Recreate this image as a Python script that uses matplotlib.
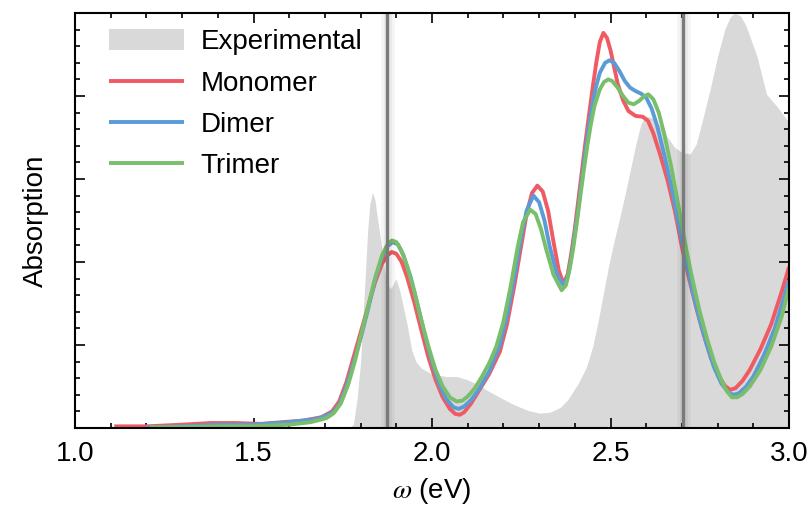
import numpy as np
import matplotlib.pyplot as plt
from matplotlib.ticker import MultipleLocator, NullFormatter

# experimental spectrum (shaded)
exp_x = [1.77, 1.78, 1.79, 1.80, 1.81, 1.82, 1.826, 1.833, 1.84, 1.848, 1.855, 1.865,
         1.875, 1.885, 1.899, 1.91, 1.92, 1.93, 1.943, 1.955, 1.97, 2.00, 2.04, 2.07,
         2.10, 2.13, 2.16, 2.19, 2.23, 2.27, 2.30, 2.33, 2.36, 2.38, 2.41, 2.433,
         2.45, 2.465, 2.48, 2.495, 2.51, 2.525, 2.54, 2.555, 2.57, 2.585, 2.598,
         2.615, 2.639, 2.66, 2.68, 2.70, 2.723, 2.74, 2.76, 2.779, 2.80, 2.82,
         2.835, 2.848, 2.865, 2.88, 2.91, 2.937, 2.965, 3.00]
exp_y = [0.0, 0.05, 0.35, 0.80, 1.60, 2.40, 2.70, 2.84, 2.75, 2.50, 2.30, 1.95,
         1.72, 1.68, 1.80, 1.65, 1.45, 1.25, 0.94, 0.80, 0.72, 0.65, 0.62, 0.62,
         0.58, 0.52, 0.44, 0.37, 0.28, 0.21, 0.18, 0.19, 0.25, 0.34, 0.54, 0.74,
         0.98, 1.28, 1.62, 1.96, 2.25, 2.52, 2.80, 3.10, 3.40, 3.66, 3.76,
         3.74, 3.64, 3.50, 3.38, 3.32, 3.30, 3.42, 3.75, 4.08, 4.48, 4.80,
         4.95, 5.00, 4.96, 4.84, 4.48, 4.02, 3.88, 3.68]

mono_x = [1.11, 1.20, 1.30, 1.38, 1.45, 1.52, 1.58, 1.64, 1.69, 1.72, 1.74, 1.76,
          1.78, 1.80, 1.82, 1.84, 1.86, 1.875, 1.887, 1.90, 1.915, 1.93, 1.95, 1.97,
          1.99, 2.01, 2.03, 2.05, 2.065, 2.078, 2.09, 2.11, 2.13, 2.16, 2.19, 2.21,
          2.23, 2.25, 2.265, 2.28, 2.295, 2.31, 2.325, 2.34, 2.355, 2.368, 2.38,
          2.39, 2.40, 2.41, 2.42, 2.43, 2.44, 2.45, 2.46, 2.47, 2.48, 2.49, 2.50,
          2.51, 2.52, 2.535, 2.55, 2.57, 2.59, 2.605, 2.62, 2.64, 2.66, 2.68, 2.70,
          2.72, 2.74, 2.76, 2.78, 2.80, 2.82, 2.835, 2.85, 2.87, 2.89, 2.92, 2.95,
          2.98, 3.00]
mono_y = [0.02, 0.02, 0.04, 0.06, 0.06, 0.05, 0.07, 0.09, 0.13, 0.20, 0.32, 0.55,
          0.85, 1.15, 1.45, 1.75, 1.98, 2.08, 2.12, 2.10, 2.00, 1.82, 1.52, 1.18,
          0.85, 0.58, 0.37, 0.23, 0.17, 0.16, 0.19, 0.30, 0.44, 0.65, 0.92, 1.25,
          1.70, 2.20, 2.58, 2.83, 2.92, 2.85, 2.62, 2.25, 1.90, 1.74, 1.85,
          2.10, 2.40, 2.75, 3.10, 3.45, 3.78, 4.10, 4.40, 4.65, 4.76, 4.70, 4.55,
          4.35, 4.15, 3.95, 3.82, 3.76, 3.75, 3.70, 3.55, 3.28, 2.98, 2.62, 2.18,
          1.80, 1.45, 1.14, 0.86, 0.65, 0.51, 0.46, 0.48, 0.57, 0.70, 0.95, 1.25,
          1.65, 1.94]

dim_x = [1.20, 1.30, 1.40, 1.50, 1.60, 1.68, 1.72, 1.74, 1.76, 1.78, 1.80, 1.82,
         1.84, 1.86, 1.875, 1.89, 1.905, 1.92, 1.94, 1.96, 1.98, 2.00, 2.02, 2.04,
         2.06, 2.075, 2.09, 2.11, 2.13, 2.16, 2.19, 2.21, 2.23, 2.25, 2.265, 2.284,
         2.30, 2.315, 2.33, 2.35, 2.368, 2.38, 2.39, 2.40, 2.41, 2.42, 2.43, 2.44,
         2.45, 2.46, 2.47, 2.485, 2.497, 2.51, 2.525, 2.54, 2.555, 2.57, 2.585,
         2.60, 2.615, 2.63, 2.65, 2.67, 2.69, 2.71, 2.73, 2.75, 2.77, 2.79, 2.81,
         2.83, 2.845, 2.86, 2.88, 2.90, 2.93, 2.96, 3.00]
dim_y = [0.01, 0.02, 0.04, 0.04, 0.07, 0.11, 0.18, 0.28, 0.50, 0.78, 1.08, 1.42,
         1.78, 2.06, 2.19, 2.24, 2.21, 2.08, 1.82, 1.48, 1.12, 0.80, 0.53, 0.35,
         0.25, 0.23, 0.26, 0.34, 0.46, 0.68, 1.00, 1.35, 1.80, 2.30, 2.62, 2.80,
         2.72, 2.50, 2.18, 1.85, 1.72, 1.82, 2.05, 2.35, 2.65, 3.00, 3.35, 3.65,
         3.92, 4.12, 4.28, 4.40, 4.43, 4.40, 4.30, 4.18, 4.10, 4.06, 4.03,
         3.98, 3.85, 3.65, 3.30, 2.92, 2.48, 2.05, 1.65, 1.30, 1.00, 0.73, 0.54,
         0.43, 0.40, 0.42, 0.50, 0.62, 0.88, 1.20, 1.78]

tri_x = [1.21, 1.30, 1.40, 1.50, 1.60, 1.66, 1.705, 1.725, 1.745, 1.765, 1.785, 1.80,
         1.82, 1.84, 1.86, 1.875, 1.888, 1.90, 1.915, 1.93, 1.95, 1.97, 1.99, 2.01,
         2.03, 2.05, 2.069, 2.085, 2.10, 2.12, 2.14, 2.16, 2.18, 2.20, 2.22, 2.24,
         2.255, 2.275, 2.29, 2.305, 2.32, 2.34, 2.363, 2.375, 2.385, 2.395, 2.405,
         2.415, 2.425, 2.435, 2.445, 2.455, 2.47, 2.482, 2.494, 2.505, 2.52, 2.535,
         2.55, 2.565, 2.58, 2.595, 2.606, 2.62, 2.635, 2.65, 2.67, 2.69, 2.71, 2.73,
         2.75, 2.77, 2.79, 2.81, 2.825, 2.84, 2.855, 2.87, 2.89, 2.92, 2.95, 2.98,
         3.00]
tri_y = [0.01, 0.01, 0.02, 0.02, 0.04, 0.07, 0.12, 0.18, 0.30, 0.52, 0.82, 1.10,
         1.45, 1.80, 2.08, 2.21, 2.26, 2.24, 2.13, 1.95, 1.65, 1.30, 0.98, 0.70,
         0.50, 0.37, 0.32, 0.33, 0.38, 0.48, 0.62, 0.78, 0.98, 1.28, 1.70, 2.18,
         2.48, 2.63, 2.58, 2.40, 2.15, 1.85, 1.66, 1.72, 1.90, 2.15, 2.45,
         2.78, 3.10, 3.40, 3.66, 3.88, 4.08, 4.17, 4.20, 4.18, 4.10, 4.00,
         3.92, 3.90, 3.94, 4.00, 4.02, 3.96, 3.80, 3.55, 3.15, 2.68, 2.20, 1.78,
         1.40, 1.08, 0.80, 0.58, 0.45, 0.37, 0.37, 0.41, 0.50, 0.70, 0.98, 1.35,
         1.70]

vlines = [1.873, 2.703]

plt.rcParams['font.family'] = ['Liberation Sans', 'DejaVu Sans']
plt.rcParams['mathtext.fontset'] = 'stix'

fig = plt.figure(figsize=(8.11, 5.11), dpi=100)
ax = fig.add_axes([0.0925, 0.1624, 0.8804, 0.8122])

ax.fill_between(exp_x, 0, exp_y, color='#d9d9d9', lw=0, label='Experimental', zorder=1)
kw = dict(lw=2.8, solid_joinstyle='round', solid_capstyle='butt')
ax.plot(mono_x, mono_y, color='#ef5a63', label='Monomer', zorder=3, **kw)
ax.plot(dim_x, dim_y, color='#5b9bd6', label='Dimer', zorder=4, **kw)
ax.plot(tri_x, tri_y, color='#79bf6b', label='Trimer', zorder=5, **kw)

for xv in vlines:
    # soft shadow then the line itself
    for w, a in [(10, 0.035), (6, 0.05)]:
        ax.axvline(xv + 0.004, color='black', lw=w, alpha=a, zorder=6)
    ax.axvline(xv, color='#7a7a7a', lw=2.4, zorder=7)

ax.set_xlim(1.0, 3.0)
ax.set_ylim(0, 5)
ax.xaxis.set_major_locator(MultipleLocator(0.5))
ax.xaxis.set_minor_locator(MultipleLocator(0.1))
ax.yaxis.set_major_locator(MultipleLocator(1))
ax.yaxis.set_minor_locator(MultipleLocator(0.2))
ax.yaxis.set_major_formatter(NullFormatter())
ax.tick_params(which='both', direction='in', top=True, right=True, width=1.2)
ax.tick_params(which='major', length=7, labelsize=20, pad=9)
ax.tick_params(which='minor', length=3.5)
for s in ax.spines.values():
    s.set_linewidth(1.5)
    s.set_zorder(10)

ax.set_xlabel(r'$\omega$ (eV)', fontsize=20, labelpad=7)
ax.set_ylabel('Absorption', fontsize=20, labelpad=10)

ax.legend(loc='upper left', bbox_to_anchor=(0.02, 1.008), frameon=False, fontsize=20,
          handlelength=2.7, handleheight=0.8, handletextpad=0.6, labelspacing=0.54,
          borderaxespad=0.3)

fig.savefig('out.png', dpi=100)
